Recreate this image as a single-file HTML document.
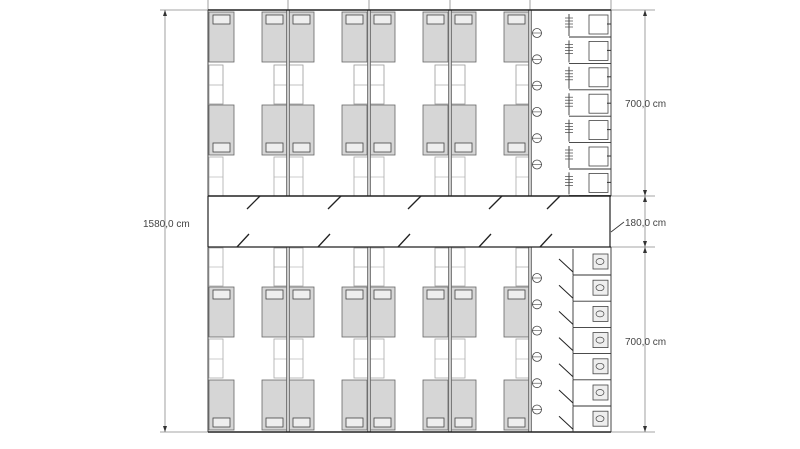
<!DOCTYPE html>
<html><head><meta charset="utf-8"><style>
html,body{margin:0;padding:0;background:#fff;width:800px;height:449px;overflow:hidden}
svg{display:block}
text{font-family:"Liberation Sans",sans-serif;font-size:10px;fill:#444}
</style></head><body>
<svg id="s" width="800" height="449" viewBox="0 0 800 449" xmlns="http://www.w3.org/2000/svg">
<g stroke="#888" stroke-width="0.8" fill="none">
<line x1="165" y1="10" x2="165" y2="432"/>
<line x1="160" y1="10" x2="208" y2="10"/>
<line x1="160" y1="432" x2="208" y2="432"/>
<line x1="645" y1="10" x2="645" y2="432"/>
<line x1="611" y1="10" x2="655" y2="10"/>
<line x1="611" y1="196" x2="655" y2="196"/>
<line x1="611" y1="247" x2="655" y2="247"/>
<line x1="611" y1="432" x2="655" y2="432"/>
<line x1="208" y1="0" x2="208" y2="10"/><line x1="288" y1="0" x2="288" y2="10"/><line x1="369" y1="0" x2="369" y2="10"/><line x1="450" y1="0" x2="450" y2="10"/><line x1="530" y1="0" x2="530" y2="10"/><line x1="611" y1="0" x2="611" y2="10"/>
</g>
<text x="143" y="227">1580,0 cm</text>
<text x="625" y="107">700,0 cm</text>
<text x="625" y="226">180,0 cm</text>
<text x="625" y="345">700,0 cm</text>
<line x1="611" y1="232" x2="624" y2="222" stroke="#333" stroke-width="0.8"/>
<g id="g"></g>
</svg>
<script>
var g=document.getElementById('g'),h='';
function L(a,b,c,d,s,w){h+='<line x1="'+a+'" y1="'+b+'" x2="'+c+'" y2="'+d+'" stroke="'+(s||'#333')+'" stroke-width="'+(w||1)+'"/>';}
function R(x,y,w,ht,f,s,sw){h+='<rect x="'+x+'" y="'+y+'" width="'+w+'" height="'+ht+'" fill="'+(f||'none')+'" stroke="'+(s||'#555')+'" stroke-width="'+(sw||0.8)+'"/>';}
function A(x,y,d){h+='<polygon points="'+(x-2)+','+y+' '+(x+2)+','+y+' '+x+','+(y+d*6)+'" fill="#333"/>';}
A(165,16,-1);A(165,426,1);A(645,16,-1);A(645,190,1);A(645,202,-1);A(645,241,1);A(645,253,-1);A(645,426,1);
var rx=[208,288,369,450];
function bed(x,y,top){R(x,y,25,50,'#d6d6d6','#666');var py=top?y+3:y+38;R(x+4,py,17,9,'#eee','#444');}
rx.forEach(function(x,i){
 bed(x+1,12,1);bed(x+54,12,1);bed(x+1,105,0);bed(x+54,105,0);
 R(x+1,65,14,39,'#fff','#999');L(x+1,85,x+15,85,'#999',0.6);
 R(x+66,65,14,39,'#fff','#999');L(x+66,85,x+80,85,'#999',0.6);
 R(x+1,157,14,39,'#fff','#aaa');L(x+1,177,x+15,177,'#aaa',0.6);
 R(x+66,157,14,39,'#fff','#aaa');L(x+66,177,x+80,177,'#aaa',0.6);
 bed(x+1,287,1);bed(x+54,287,1);bed(x+1,380,0);bed(x+54,380,0);
 R(x+1,248,14,38,'#fff','#aaa');L(x+1,267,x+15,267,'#aaa',0.6);
 R(x+66,248,14,38,'#fff','#999');L(x+66,267,x+80,267,'#999',0.6);
 R(x+1,339,14,39,'#fff','#aaa');L(x+1,359,x+15,359,'#aaa',0.6);
 R(x+66,339,14,39,'#fff','#aaa');L(x+66,359,x+80,359,'#aaa',0.6);
});
[288,369,450,530].forEach(function(x){R(x-1.5,10,3,186,'#ccc','#555',0.7);R(x-1.5,247,3,185,'#ccc','#555',0.7);});
L(208,10,611,10,'#222',1.5);L(208,10,208,196,'#444',1);L(611,10,611,196,'#444',1);
L(208,247,208,432,'#444',1);L(611,247,611,432,'#444',1);L(208,432,611,432,'#222',1.5);
L(208,196,611,196,'#222',1.5);L(208,247,611,247,'#222',1.2);L(208,196,208,247,'#222',1.2);L(610,196,610,247,'#222',1.2);
[260,341,421,502,560].forEach(function(x){L(x,196,x-13,209,'#222',1.3);});
[249,330,410,491,552].forEach(function(x){L(x,234,x-12,247,'#222',1.3);});
for(var k=0;k<6;k++){var cy=33+k*26.3;h+='<circle cx="537" cy="'+cy+'" r="4.5" fill="#fff" stroke="#444" stroke-width="0.8"/>';L(532,cy,542,cy,'#444',0.6);}
for(var k=0;k<7;k++){var y=12+k*26.4;L(569,y+2,569,y+24,'#333',0.9);L(569,y+25,611,y+25,'#333',0.9);R(589,y+3,19,19,'#fff','#444');
 for(var j=0;j<4;j++){L(565,y+6+j*3,573,y+6+j*3,'#444',0.7);}L(607,y+12,611,y+12,'#333',1);}
for(var k=0;k<6;k++){var cy=278+k*26.3;h+='<circle cx="537" cy="'+cy+'" r="4.5" fill="#fff" stroke="#444" stroke-width="0.8"/>';L(532,cy,542,cy,'#444',0.6);}
for(var k=0;k<7;k++){var y=249+k*26.2;L(573,y,573,y+26,'#333',0.9);L(573,y+26,611,y+26,'#333',0.9);L(559,y+10,573,y+23,'#222',1);
 R(593,y+5,15,15,'#eee','#444');h+='<ellipse cx="600" cy="'+(y+12.5)+'" rx="4" ry="3" fill="none" stroke="#444" stroke-width="0.7"/>';}
g.innerHTML=h;
</script>
</body></html>
